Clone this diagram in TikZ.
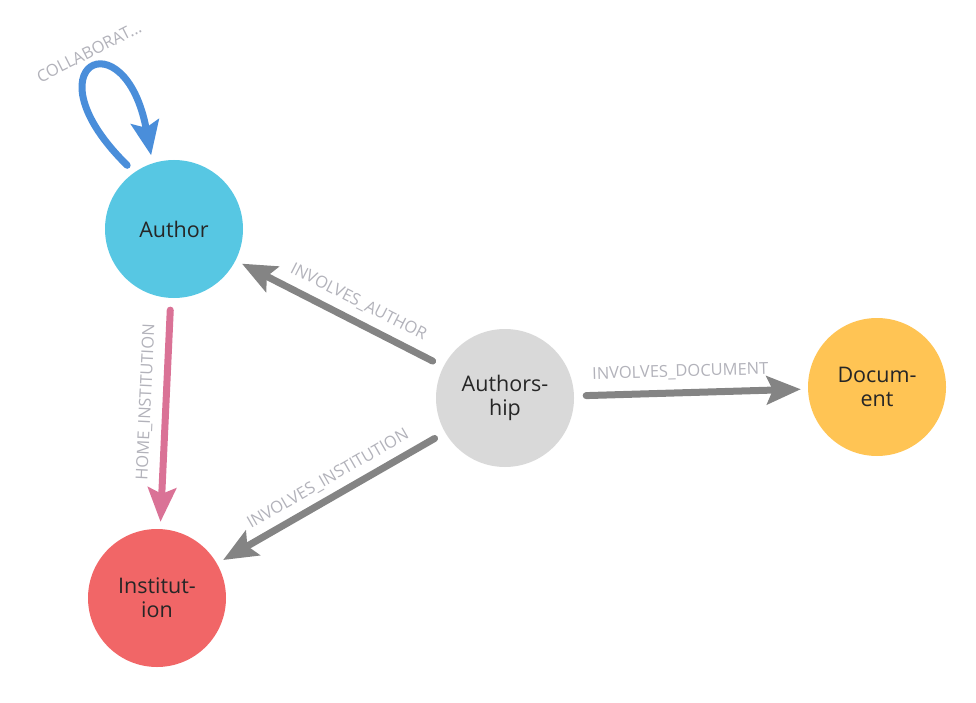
\documentclass[tikz,border=0pt]{standalone}
\usepackage{fontspec}
\setmainfont{Open Sans}
\usetikzlibrary{arrows.meta}
\definecolor{authorblue}{RGB}{87,199,227}
\definecolor{instred}{RGB}{241,102,103}
\definecolor{shipgray}{RGB}{217,217,217}
\definecolor{docyellow}{RGB}{255,196,84}
\definecolor{relgray}{RGB}{132,132,132}
\definecolor{homepink}{RGB}{218,114,150}
\definecolor{collabblue}{RGB}{74,142,218}
\definecolor{lblgray}{RGB}{178,178,186}

\begin{document}
\begin{tikzpicture}[x=1pt, y=-1pt,
	every node/.style={font=\fontsize{21.5}{24}\selectfont, text=black!85},
	entity/.style={circle, minimum size=138pt, inner sep=0pt, align=center},
	rel/.style={draw=relgray, line width=7pt, line cap=round, -{Stealth[length=34pt, width=28pt, inset=6pt]}, shorten <=12pt, shorten >=7pt},
	lbl/.style={font=\fontsize{16.5}{18}\selectfont, text=lblgray, sloped, inner sep=0pt}]
				\useasboundingbox (0,0) rectangle (976,703);
				\node[entity, fill=authorblue] (author) at (174,229) {Author};
				\node[entity, fill=instred] (institution) at (157,598) {Institut-\\ion};
				\node[entity, fill=shipgray] (authorship) at (505,398) {Authors-\\hip};
				\node[entity, fill=docyellow] (document) at (877,387) {Docum-\\ent};
				\draw[rel, draw=collabblue, shorten <=10pt, shorten >=8pt] (author.125) .. controls (25,65) and (125,15) .. (author.108);
				\node[lbl, rotate=27] (collablabel) at (89,52) {COLLABORAT...};
				\draw[rel, draw=homepink] (author) -- (institution) node[lbl, pos=0.455, above=9pt] {HOME\_INSTITUTION};
				\draw[rel] (authorship) -- (author) node[lbl, pos=0.45, above=8pt] {INVOLVES\_AUTHOR};
				\draw[rel] (authorship) -- (document) node[lbl, pos=0.457, above=10pt] {INVOLVES\_DOCUMENT};
				\draw[rel] (authorship) -- (institution) node[lbl, pos=0.474, above=7pt] {INVOLVES\_INSTITUTION};
			\end{tikzpicture}
\end{document}
